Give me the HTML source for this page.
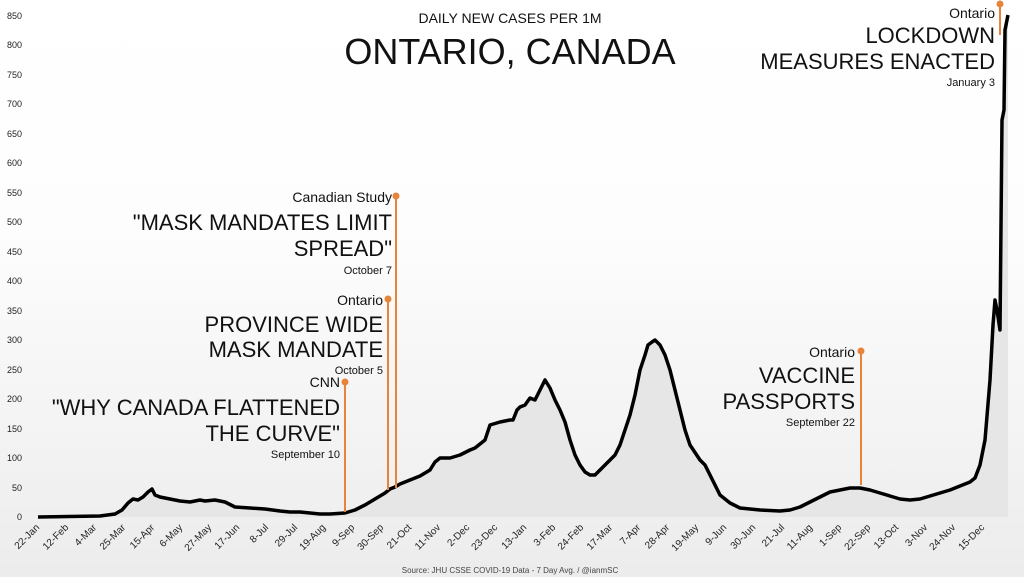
<!DOCTYPE html><html><head><style>body{margin:0;}svg{display:block;font-family:"Liberation Sans",sans-serif;}</style></head><body>
<svg width="1024" height="577" viewBox="0 0 1024 577">
<defs><linearGradient id="bg" x1="0" y1="0" x2="0" y2="1"><stop offset="0" stop-color="#fff"/><stop offset="0.4" stop-color="#fdfdfd"/><stop offset="1" stop-color="#ececec"/></linearGradient></defs>
<rect width="1024" height="577" fill="url(#bg)"/>
<g font-size="9" fill="#222" text-anchor="end">
<text x="22" y="520">0</text><text x="22" y="491">50</text><text x="22" y="461">100</text><text x="22" y="432">150</text><text x="22" y="402">200</text><text x="22" y="373">250</text><text x="22" y="343">300</text><text x="22" y="314">350</text><text x="22" y="284">400</text><text x="22" y="255">450</text><text x="22" y="225">500</text><text x="22" y="196">550</text><text x="22" y="166">600</text><text x="22" y="137">650</text><text x="22" y="107">700</text><text x="22" y="78">750</text><text x="22" y="48">800</text><text x="22" y="19">850</text>
</g>
<polygon fill="#e6e6e6" points="38,517 100,516 115,514 122,510 128,503 133,499 138,500 143,497 148,492 152,489 155,495 160,497 170,499 180,501 190,502 200,500 205,501 215,500 225,502 235,507 250,508 265,509 280,511 290,512 300,512 320,514 330,514 345,513 355,510 365,505 375,499 385,493 390,489 395,487 400,484 410,480 420,476 430,470 435,462 440,458 450,458 460,455 470,450 475,448 480,444 485,440 490,425 500,422 510,420 513,420 517,410 520,407 525,405 530,398 535,400 540,390 545,380 550,388 555,400 560,410 565,422 570,440 575,455 580,465 585,472 590,475 595,475 600,470 605,465 610,460 615,455 620,445 625,430 630,415 635,395 640,370 645,355 648,345 652,342 655,340 660,345 665,355 670,370 675,390 680,410 685,430 690,445 700,460 705,465 710,475 715,485 720,495 730,503 740,508 760,510 780,511 790,510 800,507 810,502 820,497 830,492 840,490 850,488 860,488 870,490 880,493 890,496 900,499 910,500 920,499 930,496 940,493 950,490 960,486 970,482 975,478 980,465 985,440 990,380 993,325 995,300 997,310 1000,330 1002,120 1004,110 1005,30 1008,15 1008,517"/>
<polyline fill="none" stroke="#000" stroke-width="3.5" stroke-linejoin="round" points="38,517 100,516 115,514 122,510 128,503 133,499 138,500 143,497 148,492 152,489 155,495 160,497 170,499 180,501 190,502 200,500 205,501 215,500 225,502 235,507 250,508 265,509 280,511 290,512 300,512 320,514 330,514 345,513 355,510 365,505 375,499 385,493 390,489 395,487 400,484 410,480 420,476 430,470 435,462 440,458 450,458 460,455 470,450 475,448 480,444 485,440 490,425 500,422 510,420 513,420 517,410 520,407 525,405 530,398 535,400 540,390 545,380 550,388 555,400 560,410 565,422 570,440 575,455 580,465 585,472 590,475 595,475 600,470 605,465 610,460 615,455 620,445 625,430 630,415 635,395 640,370 645,355 648,345 652,342 655,340 660,345 665,355 670,370 675,390 680,410 685,430 690,445 700,460 705,465 710,475 715,485 720,495 730,503 740,508 760,510 780,511 790,510 800,507 810,502 820,497 830,492 840,490 850,488 860,488 870,490 880,493 890,496 900,499 910,500 920,499 930,496 940,493 950,490 960,486 970,482 975,478 980,465 985,440 990,380 993,325 995,300 997,310 1000,330 1002,120 1004,110 1005,30 1008,15"/>
<g stroke="#e8843a" stroke-width="2" fill="#e8843a">
<line x1="345" y1="382" x2="345" y2="512"/><circle cx="345" cy="382" r="2.5"/>
<line x1="388" y1="299" x2="388" y2="490"/><circle cx="388" cy="299" r="2.5"/>
<line x1="396" y1="196" x2="396" y2="488"/><circle cx="396" cy="196" r="2.5"/>
<line x1="861" y1="351" x2="861" y2="485"/><circle cx="861" cy="351" r="2.5"/>
<line x1="1000" y1="4" x2="1000" y2="35"/><circle cx="1000" cy="4" r="2.5"/>
</g>
<g fill="#111" text-anchor="end">
<text x="340" y="387" font-size="14">CNN</text>
<text x="340" y="415" font-size="22">"WHY CANADA FLATTENED</text>
<text x="340" y="441" font-size="22">THE CURVE"</text>
<text x="340" y="458" font-size="11">September 10</text>
<text x="383" y="305" font-size="14">Ontario</text>
<text x="383" y="332" font-size="22">PROVINCE WIDE</text>
<text x="383" y="357" font-size="22">MASK MANDATE</text>
<text x="383" y="374" font-size="11">October 5</text>
<text x="392" y="202" font-size="14">Canadian Study</text>
<text x="392" y="230" font-size="22">"MASK MANDATES LIMIT</text>
<text x="392" y="256" font-size="22">SPREAD"</text>
<text x="392" y="274" font-size="11">October 7</text>
<text x="855" y="357" font-size="14">Ontario</text>
<text x="855" y="383" font-size="22">VACCINE</text>
<text x="855" y="409" font-size="22">PASSPORTS</text>
<text x="855" y="426" font-size="11">September 22</text>
<text x="995" y="18" font-size="14">Ontario</text>
<text x="995" y="43" font-size="22">LOCKDOWN</text>
<text x="995" y="69" font-size="22">MEASURES ENACTED</text>
<text x="995" y="86" font-size="11">January 3</text>
</g>
<text x="510" y="23" font-size="14" text-anchor="middle" fill="#111">DAILY NEW CASES PER 1M</text>
<text x="510" y="64" font-size="36" text-anchor="middle" fill="#111">ONTARIO, CANADA</text>
<text x="510" y="573" font-size="8" text-anchor="middle" fill="#444">Source: JHU CSSE COVID-19 Data - 7 Day Avg. / @ianmSC</text>
<g font-size="10" fill="#222" text-anchor="end">
<text transform="translate(40,528) rotate(-45)">22-Jan</text><text transform="translate(69,528) rotate(-45)">12-Feb</text><text transform="translate(97,528) rotate(-45)">4-Mar</text><text transform="translate(126,528) rotate(-45)">25-Mar</text><text transform="translate(155,528) rotate(-45)">15-Apr</text><text transform="translate(183,528) rotate(-45)">6-May</text><text transform="translate(212,528) rotate(-45)">27-May</text><text transform="translate(240,528) rotate(-45)">17-Jun</text><text transform="translate(269,528) rotate(-45)">8-Jul</text><text transform="translate(298,528) rotate(-45)">29-Jul</text><text transform="translate(326,528) rotate(-45)">19-Aug</text><text transform="translate(355,528) rotate(-45)">9-Sep</text><text transform="translate(384,528) rotate(-45)">30-Sep</text><text transform="translate(412,528) rotate(-45)">21-Oct</text><text transform="translate(441,528) rotate(-45)">11-Nov</text><text transform="translate(470,528) rotate(-45)">2-Dec</text><text transform="translate(498,528) rotate(-45)">23-Dec</text><text transform="translate(527,528) rotate(-45)">13-Jan</text><text transform="translate(556,528) rotate(-45)">3-Feb</text><text transform="translate(584,528) rotate(-45)">24-Feb</text><text transform="translate(613,528) rotate(-45)">17-Mar</text><text transform="translate(641,528) rotate(-45)">7-Apr</text><text transform="translate(670,528) rotate(-45)">28-Apr</text><text transform="translate(699,528) rotate(-45)">19-May</text><text transform="translate(727,528) rotate(-45)">9-Jun</text><text transform="translate(756,528) rotate(-45)">30-Jun</text><text transform="translate(785,528) rotate(-45)">21-Jul</text><text transform="translate(813,528) rotate(-45)">11-Aug</text><text transform="translate(842,528) rotate(-45)">1-Sep</text><text transform="translate(871,528) rotate(-45)">22-Sep</text><text transform="translate(899,528) rotate(-45)">13-Oct</text><text transform="translate(928,528) rotate(-45)">3-Nov</text><text transform="translate(956,528) rotate(-45)">24-Nov</text><text transform="translate(985,528) rotate(-45)">15-Dec</text>
</g>
</svg>
</body></html>
